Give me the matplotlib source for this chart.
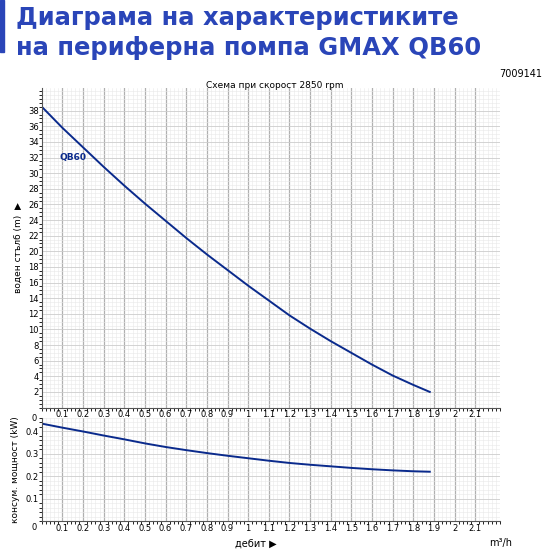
import matplotlib
matplotlib.use("Agg")
import matplotlib.pyplot as plt
from matplotlib.ticker import MultipleLocator

flow = [0, 0.1, 0.2, 0.3, 0.4, 0.5, 0.6, 0.7, 0.8, 0.9, 1.0, 1.1, 1.2, 1.3, 1.4, 1.5, 1.6, 1.7, 1.8, 1.88]
head = [38.5, 35.8, 33.3, 30.8, 28.4, 26.1, 23.9, 21.7, 19.6, 17.6, 15.6, 13.7, 11.8, 10.1, 8.5, 7.0, 5.5, 4.1, 2.9, 2.0]
power = [0.435, 0.417, 0.400, 0.382, 0.365, 0.347, 0.331, 0.317, 0.304, 0.292, 0.281, 0.270, 0.260, 0.252, 0.245, 0.238, 0.232, 0.227, 0.223, 0.221]
xticks = [0.1*i for i in range(1, 22)]
xlabels = ["0.1","0.2","0.3","0.4","0.5","0.6","0.7","0.8","0.9","1","1.1","1.2","1.3","1.4","1.5","1.6","1.7","1.8","1.9","2","2.1"]

blue = "#0a2a8c"
title_c = "#2a45b8"
fig = plt.figure(figsize=(5.5, 5.5), dpi=100)
fig.text(0.03, 0.99, "Диаграма на характеристиките", fontsize=17.5, fontweight="bold", color=title_c, va="top")
fig.text(0.03, 0.935, "на периферна помпа GMAX QB60", fontsize=17.5, fontweight="bold", color=title_c, va="top")
fig.add_artist(plt.Rectangle((0, 0.905), 0.008, 0.095, color=title_c, transform=fig.transFigure))
fig.text(0.985, 0.865, "7009141", fontsize=7, ha="right", va="center")
fig.text(0.5, 0.845, "Схема при скорост 2850 rpm", fontsize=6.5, ha="center", va="center")

def style(ax, xs, ys, ylim, ymaj, ymin, ylab):
    ax.plot(xs, ys, color=blue, lw=1.4)
    ax.set_xlim(0, 2.22)
    ax.set_ylim(*ylim)
    ax.set_xticks(xticks)
    ax.set_xticklabels(xlabels, fontsize=6)
    ax.xaxis.set_minor_locator(MultipleLocator(0.02))
    ax.yaxis.set_major_locator(MultipleLocator(ymaj))
    ax.yaxis.set_minor_locator(MultipleLocator(ymin))
    ax.grid(which="major", axis="x", color="#b0b0b0", lw=0.9)
    ax.grid(which="major", axis="y", color="#cccccc", lw=0.6)
    ax.grid(which="minor", color="#e8e8e8", lw=0.4)
    ax.tick_params(length=0, labelsize=6, pad=2)
    for s in ["top", "right"]:
        ax.spines[s].set_visible(False)
    for s in ["left", "bottom"]:
        ax.spines[s].set_color("#555555")
    ax.set_ylabel(ylab, fontsize=6.5)
    ax.set_axisbelow(True)
    ax.text(-0.01, -0.02, "0", transform=ax.transAxes, fontsize=6, ha="right", va="top")

ax1 = fig.add_axes([0.076, 0.259, 0.833, 0.581])
style(ax1, flow, head, (0, 40.9), 2, 0.5, "воден стълб (m)  ▶")
ax1.set_yticks(range(2, 40, 2))
ax1.text(0.085, 31.7, "QB60", fontsize=6.5, color=blue, fontweight="bold")

ax2 = fig.add_axes([0.076, 0.052, 0.833, 0.188])
style(ax2, flow, power, (0, 0.46), 0.1, 0.02, "консум. мощност (kW)")
ax2.set_yticks([0.1, 0.2, 0.3, 0.4])
ax2.set_yticklabels(["0.1", "0.2", "0.3", "0.4"])
fig.text(0.465, 0.003, "дебит ▶", fontsize=7, ha="center", va="bottom")
fig.text(0.91, 0.003, "m³/h", fontsize=7, ha="center", va="bottom")
fig.savefig("out.png", dpi=100)
